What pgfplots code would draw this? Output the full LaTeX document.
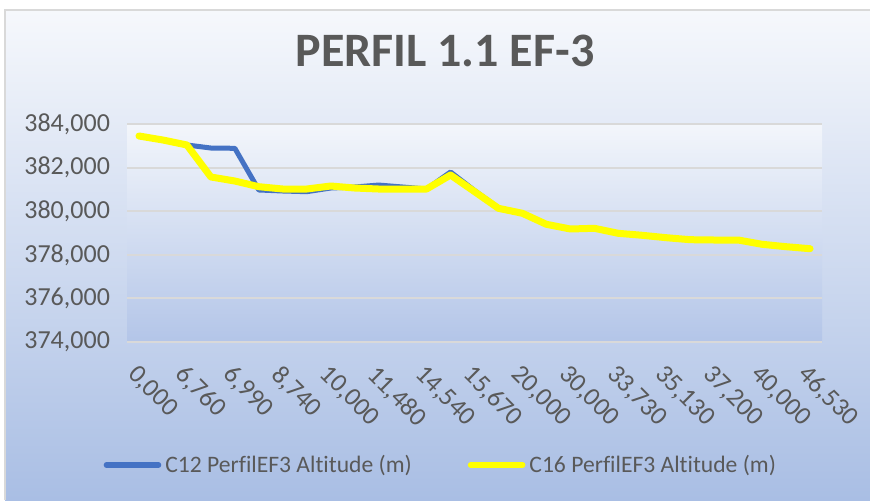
\documentclass[border=0pt]{standalone}
\usepackage{pgfplots}
\pgfplotsset{compat=1.18}
\usepackage{fontspec}
\setmainfont[Ligatures=NoCommon]{Carlito}
\definecolor{txtgray}{HTML}{595959}
\definecolor{gridgray}{HTML}{D9D9D9}
\definecolor{c12blue}{HTML}{4472C4}
\definecolor{c16yellow}{HTML}{FFFF00}
\definecolor{bgtop}{HTML}{F6F8FC}
\definecolor{bgbot}{HTML}{A9BEE4}
\definecolor{patop}{HTML}{F3F6FB}
\definecolor{pabot}{HTML}{B3C5E8}

\begin{document}
\begin{tikzpicture}
\useasboundingbox (0,0) rectangle (435pt,250pt);
\fill[white] (0,0) rectangle (435pt,250pt);
\shade[top color=bgtop, bottom color=bgbot] (2.5pt,0) rectangle (435pt,245pt);
\draw[gridgray, line width=0.6pt] (2.5pt,0) -- (2.5pt,245pt) -- (435pt,245pt);

\begin{axis}[
    at={(63.5pt,79pt)}, anchor=south west,
    scale only axis,
    width=347.5pt, height=109pt,
    axis background/.style={top color=patop, bottom color=pabot},
    axis line style={draw=none},
    xmin=-0.5, xmax=28.5,
    ymin=374000, ymax=384000,
    ytick={374000,376000,378000,380000,382000,384000},
    scaled y ticks=false,
    /pgf/number format/fixed,
    /pgf/number format/precision=0,
    /pgf/number format/1000 sep={,},
    /pgf/number format/assume math mode=true,
    ymajorgrids,
    grid style={gridgray, line width=1pt},
    major tick length=0pt,
    xtick={0,2,...,28},
    xticklabels={{0,000},{6,760},{6,990},{8,740},{10,000},{11,480},{14,540},{15,670},{20,000},{30,000},{33,730},{35,130},{37,200},{40,000},{46,530}},
    xticklabel style={rotate=-45, anchor=north west, inner sep=0pt},
    xticklabel shift=10.5pt,
    yticklabel style={xshift=-5pt},
    tick label style={font=\fontsize{13pt}{15pt}\selectfont, text=txtgray},
    title={PERFIL 1.1 EF-3},
    title style={at={(0.4576,1.28)}, anchor=center, font=\fontsize{24pt}{28pt}\selectfont\bfseries, text=txtgray},
    legend columns=2,
    legend style={at={(0.453,-0.564)}, anchor=center, draw=none, fill=none,
        font=\fontsize{11.8pt}{14pt}\selectfont, text=txtgray,
        /tikz/every even column/.append style={column sep=26pt}},
    legend image code/.code={\draw[#1, line width=2.8pt, line cap=round] (0pt,0pt) -- (26pt,0pt);},
    clip=false,
]

\addplot[c12blue, line width=2.5pt, line join=round, line cap=round] coordinates {
    (0,383450) (1,383266) (2,383037) (3,382899) (4,382885) (5,380973)
    (6,380927) (7,380895) (8,381064) (9,381110) (10,381200) (11,381110)
    (12,381018) (13,381798) (14,380950) (15,380150) (16,379904) (17,379399)
    (18,379184) (19,379216) (20,378986) (21,378895) (22,378785) (23,378693)
    (24,378679) (25,378679) (26,378482) (27,378372) (28,378280)
};
\addlegendentry{C12 PerfilEF3 Altitude (m)}

\addplot[c16yellow, line width=3.5pt, line join=round, line cap=round] coordinates {
    (0,383450) (1,383266) (2,383037) (3,381569) (4,381385) (5,381124)
    (6,381018) (7,381018) (8,381156) (9,381064) (10,381018) (11,381018)
    (12,381018) (13,381660) (14,380900) (15,380133) (16,379904) (17,379399)
    (18,379184) (19,379216) (20,378986) (21,378895) (22,378785) (23,378693)
    (24,378679) (25,378679) (26,378482) (27,378372) (28,378280)
};
\addlegendentry{C16 PerfilEF3 Altitude (m)}

\end{axis}
\end{tikzpicture}
\end{document}
